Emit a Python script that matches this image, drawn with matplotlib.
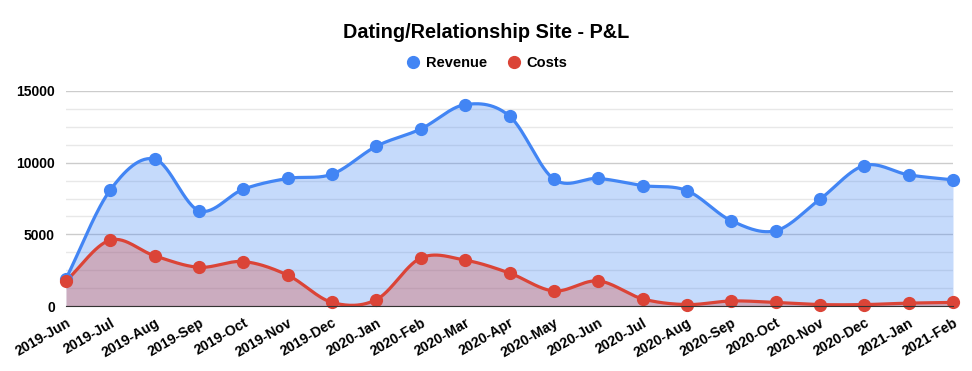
import numpy as np
import matplotlib.pyplot as plt
from matplotlib.lines import Line2D

plt.rcParams["font.family"] = ["Liberation Sans", "DejaVu Sans"]

months = ["2019-Jun", "2019-Jul", "2019-Aug", "2019-Sep", "2019-Oct", "2019-Nov",
          "2019-Dec", "2020-Jan", "2020-Feb", "2020-Mar", "2020-Apr", "2020-May",
          "2020-Jun", "2020-Jul", "2020-Aug", "2020-Sep", "2020-Oct", "2020-Nov",
          "2020-Dec", "2021-Jan", "2021-Feb"]
revenue = [1900, 8100, 10250, 6650, 8150, 8900, 9200, 11150, 12350, 14050, 13250,
           8850, 8900, 8400, 8050, 5950, 5250, 7450, 9800, 9150, 8800]
costs = [1750, 4600, 3500, 2700, 3100, 2150, 250, 450, 3350, 3200, 2300,
         1050, 1750, 500, 100, 350, 250, 100, 100, 200, 250]

BLUE = "#4285f4"
RED = "#db4437"


def smooth(y, steps=30, t=1 / 6):
    # bezier curve through the points (like the sheets "smooth" option)
    y = np.asarray(y, float)
    n = len(y)
    xs, ys = [], []
    for i in range(n - 1):
        y0 = y[max(i - 1, 0)]
        y3 = y[min(i + 2, n - 1)]
        c1 = y[i] + (y[i + 1] - y0) * t * (2 if i == 0 else 1)
        c2 = y[i + 1] - (y3 - y[i]) * t * (2 if i + 1 == n - 1 else 1)
        s = np.linspace(0, 1, steps, endpoint=False)
        by = ((1 - s) ** 3 * y[i] + 3 * (1 - s) ** 2 * s * c1
              + 3 * (1 - s) * s ** 2 * c2 + s ** 3 * y[i + 1])
        xs.append(i + s)
        ys.append(by)
    xs.append([n - 1])
    ys.append([y[-1]])
    return np.concatenate(xs), np.concatenate(ys)


fig = plt.figure(figsize=(9.72, 3.71), dpi=100)
ax = fig.add_axes([66 / 972, 65 / 371, 887 / 972, 215 / 371])

x = np.arange(len(months))
for vals, col in [(revenue, BLUE), (costs, RED)]:
    sx, sy = smooth(vals)
    sy = np.clip(sy, 0, None)
    ax.fill_between(sx, 0, sy, color=col, alpha=0.3, linewidth=0, zorder=2)
    ax.plot(sx, sy, color=col, lw=2.3, zorder=3, solid_capstyle="round")
    ax.plot(x, vals, "o", color=col, ms=8.5, zorder=4, clip_on=False)

ax.set_xlim(0, len(months) - 1)
ax.set_ylim(0, 15000)
ax.set_yticks([0, 5000, 10000, 15000])
ax.set_yticks(np.arange(0, 15001, 1250), minor=True)
ax.grid(axis="y", which="major", color="#cccccc", lw=1, zorder=0)
ax.grid(axis="y", which="minor", color="#e8e8e8", lw=1, zorder=0)
ax.set_xticks(x)
ax.set_xticklabels(months, rotation=30, ha="right", rotation_mode="anchor",
                   fontsize=10.2, fontweight="bold")
for lab in ax.get_yticklabels():
    lab.set_fontweight("bold")
    lab.set_fontsize(10)
ax.tick_params(axis="both", which="both", length=0)
ax.tick_params(axis="x", pad=7)
ax.tick_params(axis="y", pad=8)
for side in ["top", "right", "left"]:
    ax.spines[side].set_visible(False)
ax.spines["bottom"].set_color("#333333")
ax.spines["bottom"].set_zorder(5)

fig.text(0.5, 1 - 32 / 371, "Dating/Relationship Site - P&L", ha="center",
         va="center", fontsize=14.3, fontweight="bold")

handles = [Line2D([], [], marker="o", ls="", color=BLUE, ms=8.5),
           Line2D([], [], marker="o", ls="", color=RED, ms=8.5)]
fig.legend(handles, ["Revenue", "Costs"], loc="center", ncol=2,
           bbox_to_anchor=(0.5, 1 - 63 / 371), frameon=False,
           prop={"weight": "bold", "size": 10.5}, handletextpad=0.3,
           columnspacing=1.2, handlelength=1.2)

plt.savefig("out.png", dpi=100)
